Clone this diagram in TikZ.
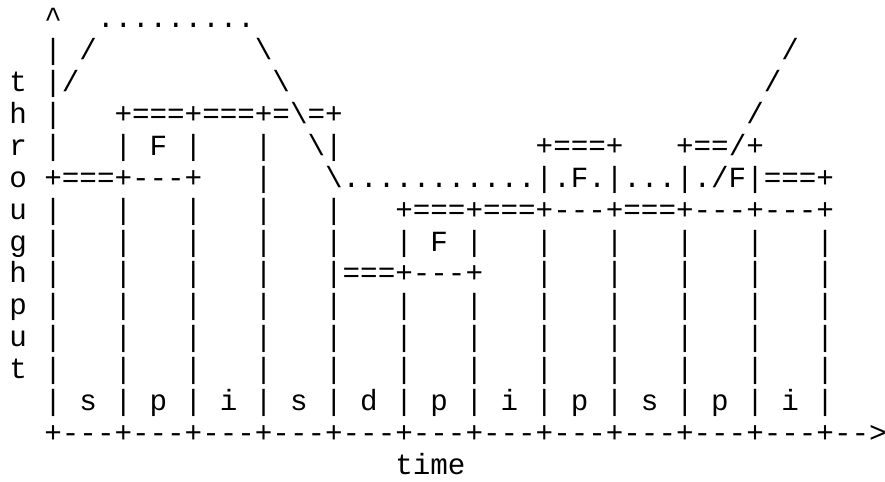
\documentclass[tikz,border=0pt]{standalone}
\usepackage{fontspec}
\setmonofont{Liberation Mono}
\usetikzlibrary{positioning,
	calc}

% one character cell of the typewriter font
\newlength{\chw}
\setlength{\chw}{6pt}
\newcommand{\gap}[1]{\hspace*{#1\chw}}
\newcommand{\bs}{\textbackslash}

\begin{document}
\begin{tikzpicture}[asciirow/.style={anchor=base west, inner sep=0pt, outer sep=0pt, font=\ttfamily}]
                            \useasboundingbox (0,0) rectangle (302.6pt,-164.8pt);
                            % throughput curve, the tiers and the left axis
                            \node (r1) [asciirow] at (3.17pt,-9.54pt) {\gap{2}\textasciicircum\gap{2}.........};
                            \node (r2) [asciirow] at (3.17pt,-20.44pt) {\gap{2}|\gap{1}/\gap{9}\bs\gap{29}/};
                            \node (r3) [asciirow] at (3.17pt,-31.34pt) {t\gap{1}|/\gap{11}\bs\gap{27}/};
                            \node (r4) [asciirow] at (3.17pt,-42.24pt) {h\gap{1}|\gap{3}+===+===+=\bs=+\gap{23}/};
                            \node (r5) [asciirow] at (3.17pt,-53.14pt) {r\gap{1}|\gap{3}|\gap{1}F\gap{1}|\gap{3}|\gap{2}\bs|\gap{11}+===+\gap{3}+==/+};
                            \node (r6) [asciirow] at (3.17pt,-64.04pt) {o\gap{1}+===+---+\gap{3}|\gap{3}\bs...........|.F.|...|./F|===+};
                            \node (r7) [asciirow] at (3.17pt,-74.94pt) {u\gap{1}|\gap{3}|\gap{3}|\gap{3}|\gap{3}|\gap{3}+===+===+---+===+---+---+};
                            \node (r8) [asciirow] at (3.17pt,-85.84pt) {g\gap{1}|\gap{3}|\gap{3}|\gap{3}|\gap{3}|\gap{3}|\gap{1}F\gap{1}|\gap{3}|\gap{3}|\gap{3}|\gap{3}|\gap{3}|};
                            \node (r9) [asciirow] at (3.17pt,-96.74pt) {h\gap{1}|\gap{3}|\gap{3}|\gap{3}|\gap{3}|===+---+\gap{3}|\gap{3}|\gap{3}|\gap{3}|\gap{3}|};
                            % plain columns
                            \foreach \ch/\y [count=\k from 10] in {p/-107.64, u/-118.54, t/-129.44}
                                \node (r\k) [asciirow] at (3.17pt,\y pt) {\ch\gap{1}|\gap{3}|\gap{3}|\gap{3}|\gap{3}|\gap{3}|\gap{3}|\gap{3}|\gap{3}|\gap{3}|\gap{3}|\gap{3}|};
                            % phases and time axis
                            \node (r13) [asciirow] at (3.17pt,-140.34pt) {\gap{2}|\gap{1}s\gap{1}|\gap{1}p\gap{1}|\gap{1}i\gap{1}|\gap{1}s\gap{1}|\gap{1}d\gap{1}|\gap{1}p\gap{1}|\gap{1}i\gap{1}|\gap{1}p\gap{1}|\gap{1}s\gap{1}|\gap{1}p\gap{1}|\gap{1}i\gap{1}|};
                            \node (r14) [asciirow] at (3.17pt,-151.24pt) {\gap{2}+---+---+---+---+---+---+---+---+---+---+---+-->};
                            \node (r15) [asciirow] at (3.17pt,-162.14pt) {\gap{22}time};
                        \end{tikzpicture}
\end{document}
